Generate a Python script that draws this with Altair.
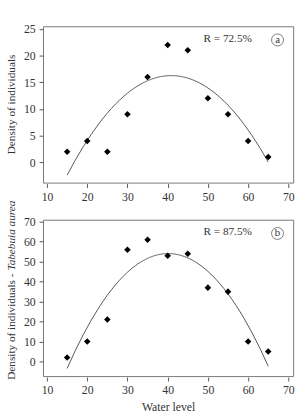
import altair as alt
import pandas as pd

water = [15, 20, 25, 30, 35, 40, 45, 50, 55, 60, 65]
dens_a = [2, 4, 2, 9, 16, 22, 21, 12, 9, 4, 1]
dens_b = [2, 10, 21, 56, 61, 53, 54, 37, 35, 10, 5]

x_ticks = [10, 20, 30, 40, 50, 60, 70]
y_ticks_a = [0, 5, 10, 15, 20, 25]
y_ticks_b = [0, 10, 20, 30, 40, 50, 60, 70]

FONT = "Liberation Serif"
TXT = "#333333"
W, H = 256, 160


def panel(vals, ydom, yticks, r_text, letter, show_xtitle, title_parts):
    df = pd.DataFrame({"x": water, "y": vals})
    base = alt.Chart(df)
    one = alt.Chart(pd.DataFrame({"k": [0]}))
    xenc = alt.X("x:Q", scale=alt.Scale(domain=[9.0, 71.2], nice=False, zero=False),
                 axis=alt.Axis(values=x_ticks, title="Water level" if show_xtitle else None,
                               grid=False, domain=False, offset=1, tickSize=4,
                               labelPadding=4, titlePadding=6, labelOverlap=False))
    yenc = alt.Y("y:Q", scale=alt.Scale(domain=ydom, nice=False, zero=False),
                 axis=alt.Axis(values=yticks, title=None, grid=False, domain=False,
                               tickSize=4, labelPadding=4, labelOverlap=False))
    pts = base.mark_point(shape="diamond", filled=True, color="black", size=45, opacity=1).encode(x=xenc, y=yenc)
    curve = base.transform_regression("x", "y", method="poly", order=2).mark_line(
        color="#555555", strokeWidth=1).encode(x=xenc, y=yenc)
    rtxt = one.mark_text(text=r_text, font=FONT, fontSize=11.5, color=TXT, align="center",
                         baseline="middle").encode(x=alt.value(189), y=alt.value(13))
    circ = one.mark_point(shape="circle", filled=False, color="#444444", size=150, strokeWidth=1).encode(
        x=alt.value(240), y=alt.value(14))
    let = one.mark_text(text=letter, font=FONT, fontSize=11, color=TXT, align="center", baseline="middle").encode(
        x=alt.value(240), y=alt.value(14))
    layers = [curve, pts, rtxt, circ, let]
    normal, italic = title_parts
    if italic:
        t1 = one.mark_text(text=normal, font=FONT, fontSize=11.5, color=TXT, angle=270,
                           align="right", baseline="middle").encode(x=alt.value(-32), y=alt.value(55))
        t2 = one.mark_text(text=italic, font=FONT, fontSize=11.5, fontStyle="italic", color=TXT, angle=270,
                           align="left", baseline="middle").encode(x=alt.value(-32), y=alt.value(52))
        layers += [t1, t2]
    else:
        t1 = one.mark_text(text=normal, font=FONT, fontSize=11.5, color=TXT, angle=270,
                           align="center", baseline="middle").encode(x=alt.value(-32), y=alt.value(H / 2))
        layers += [t1]
    return alt.layer(*layers).properties(width=W, height=H)


pa = panel(dens_a, [-3.8, 25.5], y_ticks_a, "R = 72.5%", "a", False,
           ("Density of individuals", None))
pb = panel(dens_b, [-7.3, 71.0], y_ticks_b, "R = 87.5%", "b", True,
           ("Density of individuals -", "Tabebuia aurea"))

chart = alt.vconcat(pa, pb, spacing=38, bounds="flush").configure(
    padding={"left": 5, "top": 18, "right": 5, "bottom": 0}
).configure_view(
    stroke="#777777", strokeWidth=1
).configure_axis(
    labelFont=FONT, titleFont=FONT, labelFontSize=12, titleFontSize=12,
    labelColor=TXT, titleColor=TXT, tickColor="#555555", titleFontWeight="normal"
)

chart.save("out.html", embed_options={"renderer": "svg", "actions": False})
